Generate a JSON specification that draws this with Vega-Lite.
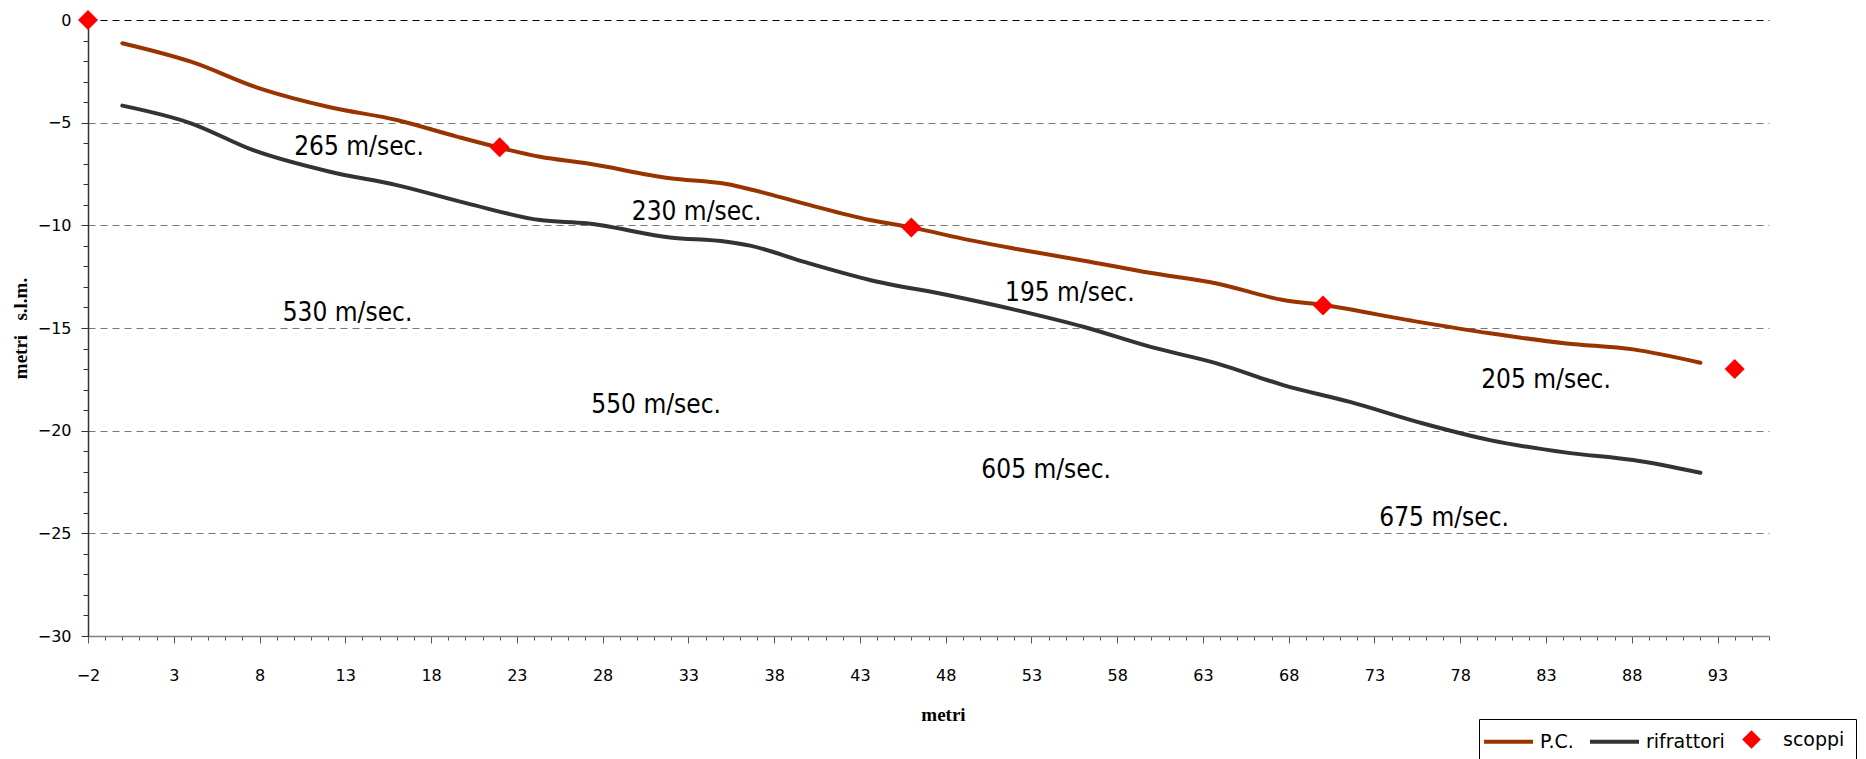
{
  "$schema": "https://vega.github.io/schema/vega-lite/v6.json",
  "width": 1681,
  "height": 616,
  "autosize": {"type": "none"},
  "padding": {"left": 88, "top": 20, "right": 97, "bottom": 123},
  "background": "white",
  "config": {
    "view": {"stroke": null},
    "axis": {"labelFont": "DejaVu Sans", "labelFontSize": 16, "labelColor": "black", "titleFont": "Liberation Serif", "titleFontWeight": "bold", "titleFontSize": 19, "titleColor": "black", "labelOverlap": false, "labelFlush": false}
  },
  "datasets": {
    "lines": [
      {"series": "P.C.", "x": 0, "y": -1.13},
      {"series": "P.C.", "x": 4, "y": -2.03},
      {"series": "P.C.", "x": 8, "y": -3.33},
      {"series": "P.C.", "x": 12.1, "y": -4.25},
      {"series": "P.C.", "x": 16, "y": -4.87},
      {"series": "P.C.", "x": 19.5, "y": -5.68},
      {"series": "P.C.", "x": 22, "y": -6.22},
      {"series": "P.C.", "x": 24.35, "y": -6.66},
      {"series": "P.C.", "x": 27.07, "y": -6.98},
      {"series": "P.C.", "x": 31.93, "y": -7.71},
      {"series": "P.C.", "x": 35.23, "y": -7.99},
      {"series": "P.C.", "x": 36.78, "y": -8.28},
      {"series": "P.C.", "x": 39.7, "y": -8.93},
      {"series": "P.C.", "x": 43.58, "y": -9.74},
      {"series": "P.C.", "x": 46, "y": -10.1},
      {"series": "P.C.", "x": 49.4, "y": -10.72},
      {"series": "P.C.", "x": 52.13, "y": -11.15},
      {"series": "P.C.", "x": 56.4, "y": -11.77},
      {"series": "P.C.", "x": 59.9, "y": -12.31},
      {"series": "P.C.", "x": 63.8, "y": -12.83},
      {"series": "P.C.", "x": 67.68, "y": -13.64},
      {"series": "P.C.", "x": 70, "y": -13.88},
      {"series": "P.C.", "x": 75.2, "y": -14.65},
      {"series": "P.C.", "x": 79.73, "y": -15.26},
      {"series": "P.C.", "x": 84.2, "y": -15.75},
      {"series": "P.C.", "x": 88.08, "y": -16.04},
      {"series": "P.C.", "x": 92, "y": -16.69},
      {"series": "rifrattori", "x": 0, "y": -4.17},
      {"series": "rifrattori", "x": 4, "y": -5.03},
      {"series": "rifrattori", "x": 7.6, "y": -6.33},
      {"series": "rifrattori", "x": 12.1, "y": -7.39},
      {"series": "rifrattori", "x": 16, "y": -8.04},
      {"series": "rifrattori", "x": 20.1, "y": -8.93},
      {"series": "rifrattori", "x": 24.35, "y": -9.74},
      {"series": "rifrattori", "x": 27.07, "y": -9.9},
      {"series": "rifrattori", "x": 31.93, "y": -10.59},
      {"series": "rifrattori", "x": 35.23, "y": -10.8},
      {"series": "rifrattori", "x": 36.6, "y": -10.99},
      {"series": "rifrattori", "x": 39.7, "y": -11.77},
      {"series": "rifrattori", "x": 43.58, "y": -12.66},
      {"series": "rifrattori", "x": 48.25, "y": -13.42},
      {"series": "rifrattori", "x": 52.13, "y": -14.13},
      {"series": "rifrattori", "x": 56.02, "y": -14.94},
      {"series": "rifrattori", "x": 59.9, "y": -15.91},
      {"series": "rifrattori", "x": 63.8, "y": -16.72},
      {"series": "rifrattori", "x": 67.68, "y": -17.78},
      {"series": "rifrattori", "x": 71.57, "y": -18.6},
      {"series": "rifrattori", "x": 75.84, "y": -19.65},
      {"series": "rifrattori", "x": 79.73, "y": -20.46},
      {"series": "rifrattori", "x": 84.2, "y": -21.07},
      {"series": "rifrattori", "x": 88.08, "y": -21.43},
      {"series": "rifrattori", "x": 92, "y": -22.05}
    ],
    "scoppi": [
      {"series": "scoppi", "x": -2, "y": 0},
      {"series": "scoppi", "x": 22, "y": -6.2},
      {"series": "scoppi", "x": 46, "y": -10.1},
      {"series": "scoppi", "x": 70, "y": -13.9},
      {"series": "scoppi", "x": 94, "y": -17}
    ],
    "labels": [
      {"x": 13.8, "y": -6.17, "text": "265 m/sec."},
      {"x": 33.48, "y": -9.34, "text": "230 m/sec."},
      {"x": 55.24, "y": -13.31, "text": "195 m/sec."},
      {"x": 83.0, "y": -17.54, "text": "205 m/sec."},
      {"x": 13.13, "y": -14.29, "text": "530 m/sec."},
      {"x": 31.12, "y": -18.75, "text": "550 m/sec."},
      {"x": 53.86, "y": -21.92, "text": "605 m/sec."},
      {"x": 77.06, "y": -24.27, "text": "675 m/sec."}
    ]
  },
  "encoding": {
    "x": {"field": "x", "type": "quantitative", "scale": {"domain": [-2, 96], "nice": false, "zero": false},
      "axis": {"title": "metri", "format": "d", "tickCount": 200, "values": [-2,-1,0,1,2,3,4,5,6,7,8,9,10,11,12,13,14,15,16,17,18,19,20,21,22,23,24,25,26,27,28,29,30,31,32,33,34,35,36,37,38,39,40,41,42,43,44,45,46,47,48,49,50,51,52,53,54,55,56,57,58,59,60,61,62,63,64,65,66,67,68,69,70,71,72,73,74,75,76,77,78,79,80,81,82,83,84,85,86,87,88,89,90,91,92,93,94,95,96],
        "labelExpr": "(datum.value + 2) % 5 === 0 ? datum.label : ''",
        "tickSize": {"condition": {"test": "(datum.value + 2) % 5 === 0", "value": 7}, "value": 4},
        "labelPadding": 24, "titlePadding": 22, "titleX": 855, "titleAlign": "center", "grid": false, "labelOverlap": false,
        "domainColor": "#808080", "tickColor": "#555555", "domainWidth": 1.5}},
    "y": {"field": "y", "type": "quantitative", "scale": {"domain": [-30, 0], "nice": false, "zero": false},
      "axis": {"title": "metri\u00a0\u00a0\u00a0s.l.m.", "format": "d", "tickCount": 100, "values": [-30,-29,-28,-27,-26,-25,-24,-23,-22,-21,-20,-19,-18,-17,-16,-15,-14,-13,-12,-11,-10,-9,-8,-7,-6,-5,-4,-3,-2,-1,0],
        "labelExpr": "datum.value % 5 === 0 ? datum.label : ''",
        "tickSize": {"condition": {"test": "datum.value % 5 === 0", "value": 7}, "value": 5},
        "labelPadding": 10, "titlePadding": 7, "grid": true, "labelOverlap": false,
        "gridDash": [7, 5], "gridWidth": 1,
        "gridColor": {"condition": {"test": "datum.value === 0", "value": "#000000"}, "value": "#777777"},
        "gridOpacity": {"condition": {"test": "datum.value % 5 === 0 && datum.value > -30", "value": 1}, "value": 0},
        "domainColor": "#333333", "tickColor": "#333333", "domainWidth": 1.5}}
  },
  "layer": [
    {
      "data": {"name": "lines"},
      "mark": {"type": "line", "strokeWidth": 4, "interpolate": "monotone", "strokeCap": "round"},
      "encoding": {
        "color": {"field": "series", "type": "nominal",
          "scale": {"domain": ["P.C.", "rifrattori", "scoppi"], "range": ["#993300", "#333333", "#ff0000"]},
          "legend": {"title": null, "orient": "none", "legendX": 1391, "legendY": 699, "direction": "horizontal",
            "strokeColor": "black", "fillColor": "white", "padding": 11, "symbolSize": 100, "symbolType": "stroke",
            "symbolStrokeWidth": 4, "symbolOffset": 9, "labelFont": "DejaVu Sans", "labelFontSize": 19, "labelColor": "black",
            "labelOffset": 22, "columnPadding": 8, "labelLimit": 300,
            "encode": {"symbols": {"update": {
              "shape": {"signal": "datum.value === 'scoppi' ? 'M-1.3,0L0,-1.3L1.3,0L0,1.3Z' : 'M-4.9,0L4.9,0'"},
              "size": {"value": 100},
              "fill": {"scale": "color", "field": "value"},
              "stroke": {"scale": "color", "field": "value"},
              "strokeWidth": {"value": 4},
              "opacity": {"value": 1}
            }}}}}
      }
    },
    {
      "data": {"name": "scoppi"},
      "mark": {"type": "point", "shape": "diamond", "filled": true, "size": 400, "opacity": 1},
      "encoding": {
        "color": {"field": "series", "type": "nominal"}
      }
    },
    {
      "data": {"name": "labels"},
      "mark": {"type": "text", "font": "DejaVu Sans Condensed, DejaVu Sans", "fontSize": 26, "align": "center", "baseline": "middle", "color": "black"},
      "encoding": {
        "text": {"field": "text"}
      }
    }
  ]
}
